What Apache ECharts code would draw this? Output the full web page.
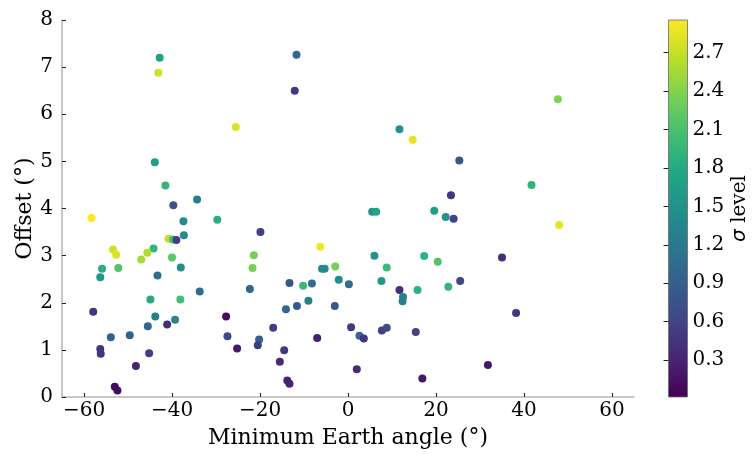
<!DOCTYPE html>
<html>
<head>
<meta charset="utf-8">
<script src="https://cdn.jsdelivr.net/npm/echarts@6/dist/echarts.min.js"></script>
<style>
  html, body { margin: 0; padding: 0; background: #fff; }
  #chart { width: 752px; height: 454px; }
</style>
</head>
<body>
<div id="chart"></div>
<script>
// Minimum Earth angle (deg) for each event
const earthAngle = [
  -42.8, -43.1, -43.9, -41.5, -34.3, -39.7, -58.3, -37.4, -37.3, -40.8,
  -39.8, -39.0, -53.4, -52.7, -44.2, -45.6, -47.0, -40.0, -55.9, -52.2,
  -56.3, -38.0, -43.3, -33.7, -44.9, -38.1, -57.9, -43.8, -39.3, -41.1,
  -45.5, -49.6, -53.9, -56.3, -56.2, -45.2, -48.2, -53.0, -52.4, -11.7,
  -12.1, -25.5, -29.7, -19.9, -6.3, -21.4, -21.7, -2.9, -5.9, -5.3,
  -2.1, 0.2, -13.3, -10.2, -8.2, -22.3, -9.0, -11.6, -14.1, -3.0,
  -27.7, -17.0, 0.7, -27.4, -20.2, -20.5, -25.2, -7.0, -14.5, -15.5,
  -13.8, -13.3, 11.7, 14.7, 25.3, 23.4, 5.5, 6.4, 19.6, 22.2,
  24.0, 6.0, 17.3, 20.4, 8.8, 7.6, 25.5, 22.8, 15.8, 11.7,
  12.5, 12.4, 2.6, 3.6, 7.7, 8.8, 15.4, 2.0, 16.9, 31.8,
  47.7, 41.7, 48.0, 35.0, 38.2
];

// Angular offset (deg)
const offset = [
  7.20, 6.88, 4.98, 4.49, 4.19, 4.07, 3.80, 3.73, 3.43, 3.36,
  3.34, 3.33, 3.13, 3.02, 3.15, 3.06, 2.92, 2.96, 2.72, 2.74,
  2.54, 2.75, 2.58, 2.24, 2.07, 2.07, 1.81, 1.71, 1.64, 1.54,
  1.50, 1.31, 1.27, 1.02, 0.92, 0.93, 0.66, 0.22, 0.14, 7.26,
  6.50, 5.73, 3.76, 3.50, 3.19, 3.01, 2.74, 2.77, 2.72, 2.72,
  2.49, 2.39, 2.42, 2.36, 2.41, 2.29, 2.04, 1.93, 1.86, 1.93,
  1.71, 1.47, 1.48, 1.29, 1.22, 1.10, 1.03, 1.25, 0.99, 0.75,
  0.35, 0.28, 5.68, 5.46, 5.02, 4.28, 3.93, 3.93, 3.95, 3.82,
  3.78, 3.00, 2.99, 2.87, 2.75, 2.46, 2.46, 2.34, 2.27, 2.27,
  2.12, 2.03, 1.30, 1.24, 1.41, 1.47, 1.38, 0.59, 0.39, 0.68,
  6.32, 4.50, 3.65, 2.96, 1.78
];

// Significance (sigma level) used for the colour scale
const sigmaLevel = [
  1.70, 2.75, 1.65, 1.95, 1.25, 0.75, 2.95, 1.40, 1.40, 2.70,
  2.10, 0.55, 2.75, 2.80, 1.95, 2.60, 2.55, 2.20, 1.85, 2.15,
  1.55, 1.45, 1.10, 1.05, 1.80, 2.05, 0.45, 1.30, 1.35, 0.40,
  0.95, 0.90, 0.90, 0.45, 0.45, 0.55, 0.30, 0.10, 0.10, 1.00,
  0.50, 2.80, 1.85, 0.55, 2.90, 2.35, 2.35, 2.35, 1.40, 1.40,
  1.40, 1.10, 0.80, 2.00, 1.05, 1.00, 1.30, 0.85, 1.00, 0.80,
  0.10, 0.55, 0.50, 0.65, 0.90, 0.55, 0.20, 0.25, 0.50, 0.35,
  0.30, 0.30, 1.50, 2.85, 0.80, 0.45, 1.50, 1.70, 1.65, 1.50,
  0.60, 1.50, 1.90, 2.15, 2.00, 1.60, 0.65, 1.95, 1.90, 0.40,
  1.30, 1.30, 1.00, 0.45, 0.55, 0.65, 0.60, 0.35, 0.20, 0.20,
  2.40, 1.90, 2.85, 0.40, 0.45
];

const xTicks = [-60, -40, -20, 0, 20, 40, 60];
const cbarTicks = [0.3, 0.6, 0.9, 1.2, 1.5, 1.8, 2.1, 2.4, 2.7];
const sigmaMin = 0.012;
const sigmaMax = 2.955;

const viridis = ['#440154', '#482475', '#414487', '#355f8d', '#2a788e',
  '#21918c', '#22a884', '#44bf70', '#7ad151', '#bddf26', '#fde725'];

const points = earthAngle.map((a, i) => [a, offset[i], sigmaLevel[i]]);

const serif = 'DejaVu Serif';
const minus = v => String(v).replace('-', '\u2212');

const plot = { left: 62, top: 20, width: 572, height: 377 };
const cbar = { left: 668.5, top: 20, width: 19, height: 377 };

const chart = echarts.init(document.getElementById('chart'), null, { renderer: 'canvas' });

chart.setOption({
  backgroundColor: '#ffffff',
  animation: false,
  grid: [
    Object.assign({ containLabel: false, outerBoundsMode: 'none' }, plot),
    Object.assign({ containLabel: false, outerBoundsMode: 'none' }, cbar)
  ],
  xAxis: [
    {
      gridIndex: 0, type: 'value', min: -65, max: 65,
      name: 'Minimum Earth angle (\u00b0)', nameLocation: 'middle', nameGap: 30,
      nameTextStyle: { fontFamily: serif, fontSize: 22, color: '#000' },
      axisLine: { show: true, onZero: false, lineStyle: { color: '#b5b5b5', width: 1.5 } },
      axisTick: { show: true, inside: true, length: 4, customValues: xTicks, lineStyle: { color: '#222', width: 1 } },
      axisLabel: { customValues: xTicks, margin: 4, fontFamily: serif, fontSize: 20, color: '#000', formatter: minus },
      splitLine: { show: false }
    },
    {
      gridIndex: 1, type: 'value', min: 0, max: 1, show: false
    }
  ],
  yAxis: [
    {
      gridIndex: 0, type: 'value', min: 0, max: 8, interval: 1,
      name: 'Offset (\u00b0)', nameLocation: 'middle', nameGap: 26, nameMoveOverlap: false,
      nameTextStyle: { fontFamily: serif, fontSize: 22, color: '#000' },
      axisLine: { show: true, onZero: false, lineStyle: { color: '#b5b5b5', width: 1.5 } },
      axisTick: { show: true, inside: true, length: 4, lineStyle: { color: '#222', width: 1 } },
      axisLabel: { margin: 9, fontFamily: serif, fontSize: 20, color: '#000' },
      splitLine: { show: false }
    },
    {
      gridIndex: 1, type: 'value', min: sigmaMin, max: sigmaMax, position: 'right',
      name: '{s|\u03c3} level', nameLocation: 'middle', nameGap: 42, nameRotate: 90,
      nameTextStyle: {
        fontFamily: serif, fontSize: 20, color: '#000',
        rich: { s: { fontFamily: 'DejaVu Sans', fontSize: 20, fontStyle: 'italic', color: '#000' } }
      },
      axisLine: { show: false },
      axisTick: { show: true, inside: true, length: 5, customValues: cbarTicks, lineStyle: { color: '#222', width: 1 } },
      axisLabel: { customValues: cbarTicks, margin: 5, fontFamily: serif, fontSize: 20, color: '#000', formatter: v => Number(v).toFixed(1) },
      splitLine: { show: false }
    }
  ],
  visualMap: {
    show: false, type: 'continuous', dimension: 2, seriesIndex: 0,
    min: sigmaMin, max: sigmaMax,
    inRange: { color: viridis }
  },
  graphic: [
    {
      type: 'rect', z: 0,
      shape: { x: cbar.left, y: cbar.top, width: cbar.width, height: cbar.height },
      style: {
        fill: new echarts.graphic.LinearGradient(0, 1, 0, 0,
          viridis.map((c, i) => ({ offset: i / (viridis.length - 1), color: c }))),
        stroke: '#6b6b6b', lineWidth: 0.8
      }
    }
  ],
  series: [
    {
      type: 'scatter', xAxisIndex: 0, yAxisIndex: 0,
      data: points, symbolSize: 8,
      itemStyle: { opacity: 1 },
      emphasis: { disabled: true }
    }
  ]
});
</script>
</body>
</html>
